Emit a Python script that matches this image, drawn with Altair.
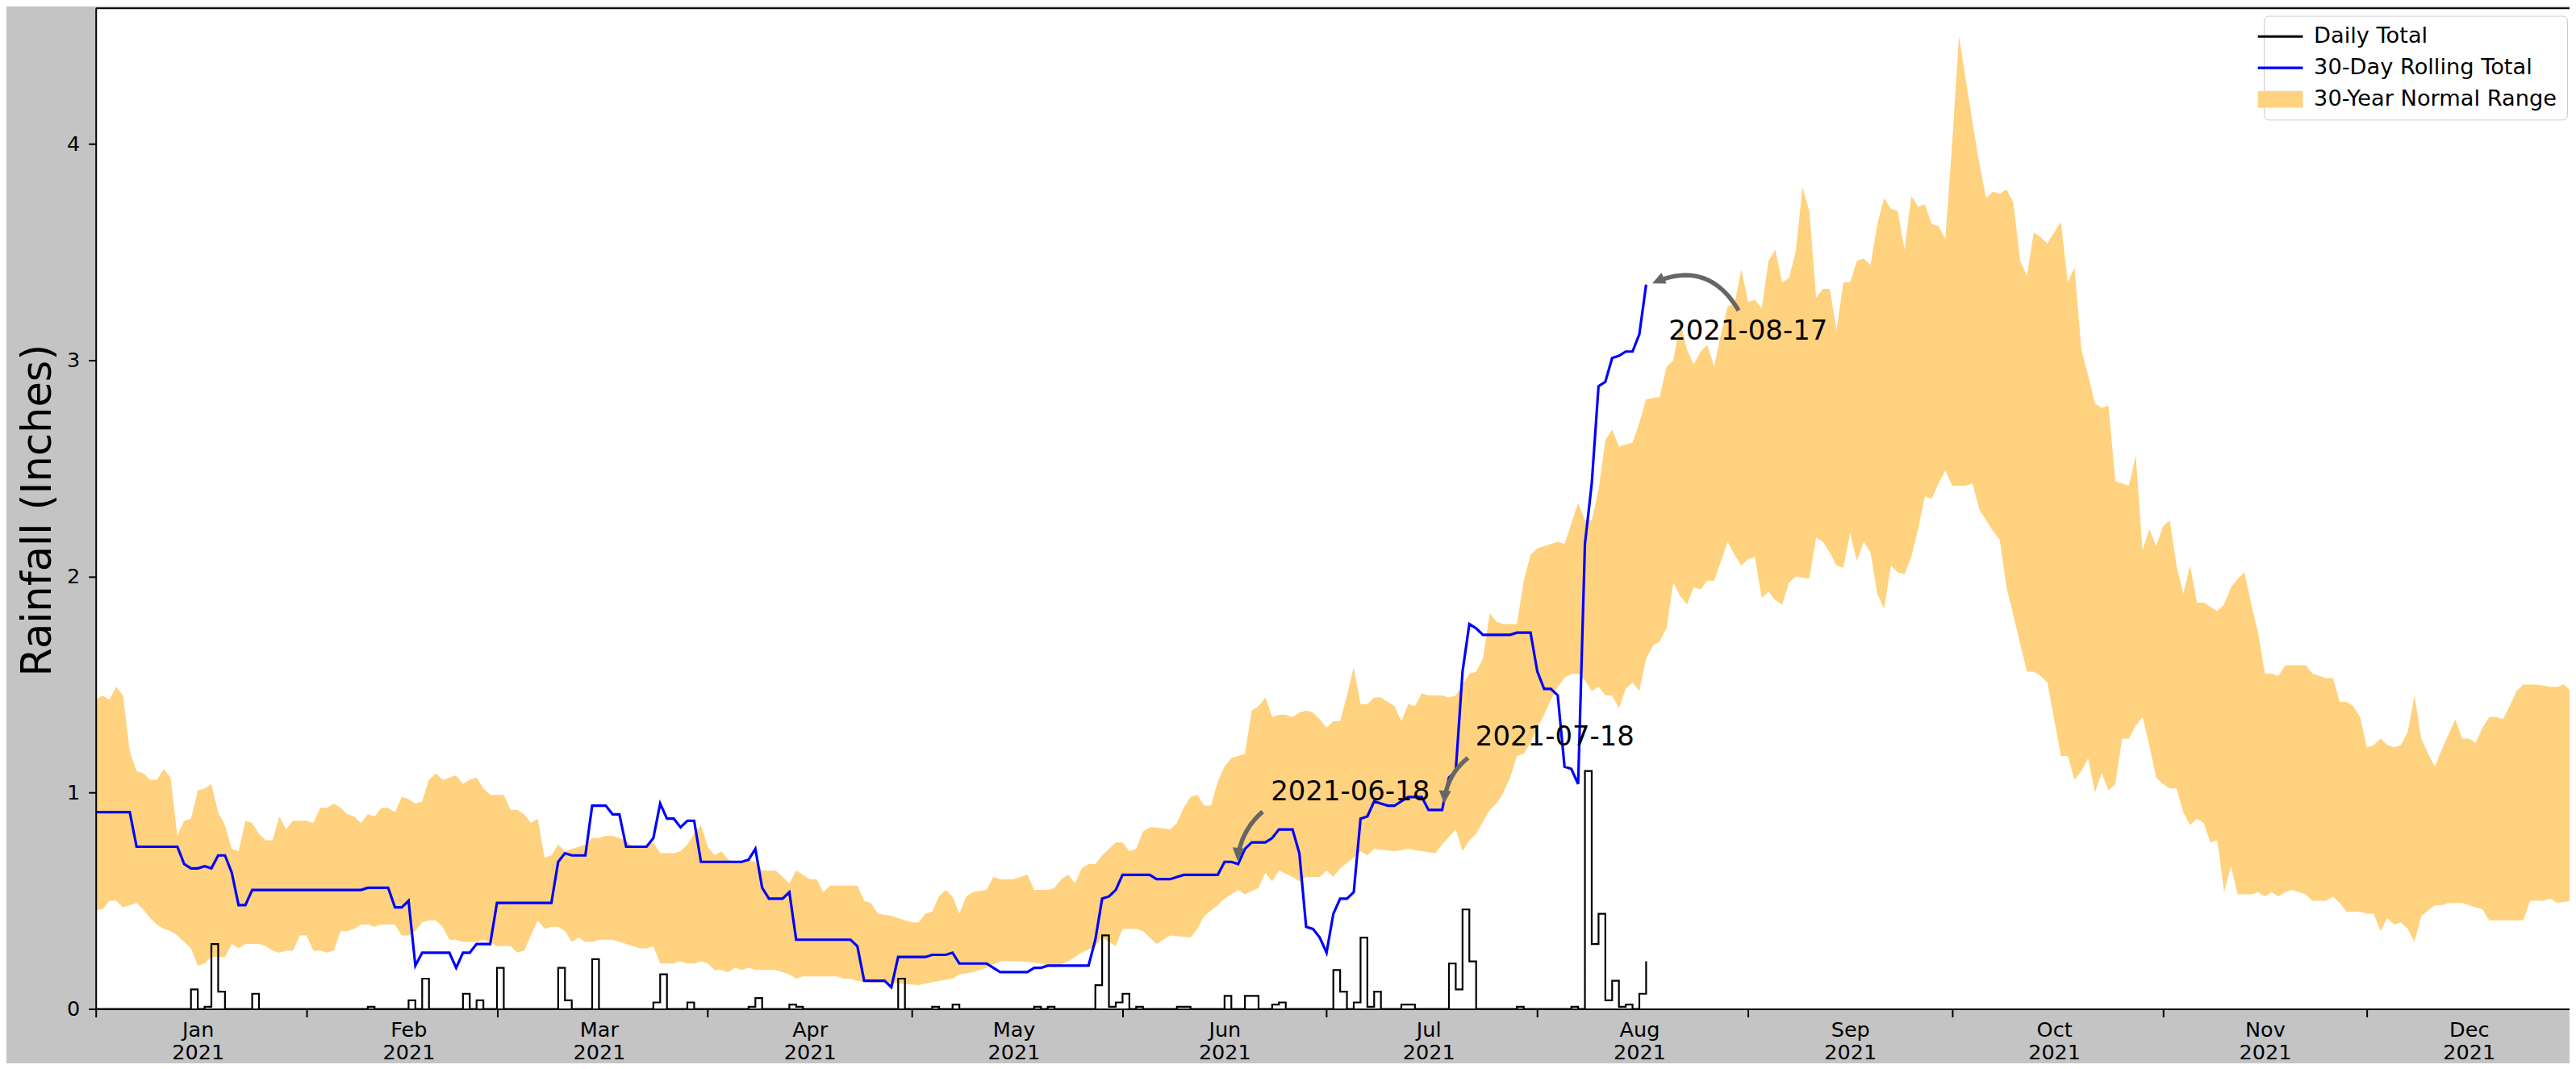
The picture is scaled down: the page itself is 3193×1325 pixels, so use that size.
import math
import pandas as pd
import altair as alt

# ------------------------------------------------------------------
# Data (day = days after 2021-01-01)
# ------------------------------------------------------------------
SERIES = ["Daily Total", "30-Day Rolling Total", "30-Year Normal Range"]

# 30-year normal range, upper edge (inches)
upper_days = [
    0, 1, 2, 3, 4, 5, 6, 7, 8, 9, 10, 11, 12, 13, 14, 15, 16, 17, 18, 19, 20, 21, 22, 23, 24, 25, 26, 27, 28, 29, 30,
    31, 32, 33, 34, 35, 36, 37, 38, 39, 40, 41, 42, 43, 44, 45, 46, 47, 48, 49, 50, 51, 52, 53, 54, 55, 56, 57, 58,
    59, 60, 61, 62, 63, 64, 65, 66, 67, 68, 69, 70, 71, 72, 73, 74, 75, 76, 77, 78, 79, 80, 81, 82, 83, 84, 85, 86, 87, 88, 89,
    90, 91, 92, 93, 94, 95, 96, 97, 98, 99, 100, 101, 102, 103, 104, 105, 106, 107, 108, 110, 112, 113, 114, 115, 117, 118,
    120, 121, 122, 123, 124, 125, 126, 127, 128, 129, 131, 132, 133, 135, 136, 137, 138, 140, 141, 142, 143, 144, 145, 146, 147, 148, 149, 150,
    151, 152, 153, 154, 155, 156, 158, 159, 160, 161, 162, 163, 164, 165, 166, 167, 168, 169, 170, 171, 172, 173, 174, 175, 176, 177, 178, 179, 180,
    181, 182, 183, 184, 185, 186, 187, 188, 189, 190, 191, 192, 193, 194, 195, 196, 198, 199, 200, 201, 202, 203, 204, 205, 206, 207, 209, 210, 211,
    212, 214, 215, 216, 218, 219, 220, 221, 222, 223, 224, 226, 227, 228, 230, 231, 232, 233, 234, 235, 236, 237, 238, 239, 240, 241, 242,
    243, 244, 245, 246, 247, 248, 249, 250, 251, 252, 253, 254, 255, 256, 257, 258, 259, 260, 261, 262, 263, 264, 265, 266, 267, 268, 269, 270, 271, 272,
    273, 274, 275, 276, 277, 278, 279, 280, 281, 282, 283, 284, 285, 286, 287, 288, 289, 290, 291, 292, 293, 294, 295, 296, 297, 298, 299, 300, 301, 302, 303,
    304, 305, 306, 307, 308, 309, 310, 311, 312, 313, 314, 315, 316, 317, 318, 319, 320, 321, 322, 324, 325, 326, 327, 328, 329, 330, 331, 332, 333,
    334, 335, 336, 337, 338, 339, 340, 341, 342, 343, 344, 345, 346, 347, 348, 349, 350, 351, 352, 353, 354, 355, 356, 357, 359, 361, 362, 363, 364,
]
upper_vals = [
    1.43, 1.45, 1.43, 1.49, 1.45, 1.19, 1.10, 1.09, 1.06, 1.06, 1.11, 1.07, 0.80, 0.87, 0.88, 1.01, 1.02, 1.04, 0.91, 0.85, 0.74, 0.73, 0.87, 0.86, 0.81, 0.78, 0.78, 0.89, 0.83, 0.87, 0.87,
    0.87, 0.86, 0.93, 0.93, 0.95, 0.93, 0.90, 0.89, 0.86, 0.90, 0.89, 0.93, 0.93, 0.91, 0.98, 0.97, 0.95, 0.96, 1.06, 1.09, 1.06, 1.07, 1.08, 1.04, 1.06, 1.07, 1.02, 0.99,
    0.99, 0.99, 0.92, 0.92, 0.90, 0.86, 0.88, 0.70, 0.71, 0.76, 0.73, 0.74, 0.75, 0.76, 0.79, 0.79, 0.80, 0.80, 0.79, 0.78, 0.75, 0.75, 0.76, 0.77, 0.72, 0.72, 0.72, 0.73, 0.76, 0.81, 0.85,
    0.75, 0.71, 0.73, 0.69, 0.68, 0.68, 0.69, 0.68, 0.64, 0.64, 0.64, 0.61, 0.58, 0.64, 0.62, 0.60, 0.60, 0.54, 0.57, 0.57, 0.57, 0.50, 0.49, 0.44, 0.43, 0.42,
    0.40, 0.40, 0.44, 0.45, 0.52, 0.55, 0.52, 0.44, 0.52, 0.54, 0.55, 0.61, 0.60, 0.60, 0.61, 0.62, 0.55, 0.55, 0.56, 0.60, 0.62, 0.58, 0.65, 0.67, 0.67, 0.71, 0.74, 0.77,
    0.77, 0.73, 0.74, 0.82, 0.84, 0.84, 0.83, 0.86, 0.93, 0.98, 0.99, 0.94, 0.94, 1.05, 1.12, 1.16, 1.17, 1.18, 1.38, 1.40, 1.44, 1.35, 1.36, 1.36, 1.35, 1.37, 1.38, 1.37, 1.34,
    1.30, 1.33, 1.33, 1.45, 1.58, 1.41, 1.41, 1.44, 1.44, 1.42, 1.40, 1.33, 1.41, 1.40, 1.46, 1.45, 1.45, 1.44, 1.45, 1.50, 1.55, 1.56, 1.62, 1.83, 1.79, 1.78, 1.78, 1.98, 2.10,
    2.13, 2.15, 2.16, 2.15, 2.34, 2.26, 2.26, 2.40, 2.63, 2.68, 2.60, 2.62, 2.71, 2.82, 2.83, 2.97, 3.00, 3.18, 3.05, 2.98, 3.04, 3.07, 2.97, 3.12, 3.25, 3.26, 3.42,
    3.27, 3.28, 3.24, 3.46, 3.51, 3.36, 3.38, 3.50, 3.80, 3.69, 3.29, 3.33, 3.33, 3.14, 3.36, 3.36, 3.46, 3.47, 3.44, 3.63, 3.75, 3.70, 3.69, 3.51, 3.76, 3.71, 3.72, 3.63, 3.62, 3.56,
    4.00, 4.50, 4.30, 4.10, 3.91, 3.75, 3.78, 3.77, 3.79, 3.73, 3.46, 3.39, 3.59, 3.57, 3.54, 3.59, 3.64, 3.36, 3.43, 3.05, 2.93, 2.80, 2.78, 2.79, 2.44, 2.43, 2.42, 2.56, 2.12, 2.22, 2.14,
    2.23, 2.26, 2.05, 1.92, 2.05, 1.88, 1.88, 1.86, 1.84, 1.87, 1.95, 1.99, 2.02, 1.87, 1.74, 1.55, 1.55, 1.54, 1.59, 1.59, 1.59, 1.55, 1.54, 1.53, 1.53, 1.42, 1.42, 1.40, 1.35,
    1.21, 1.22, 1.25, 1.22, 1.21, 1.22, 1.28, 1.45, 1.25, 1.18, 1.12, 1.20, 1.27, 1.34, 1.25, 1.25, 1.23, 1.30, 1.35, 1.35, 1.34, 1.40, 1.47, 1.50, 1.50, 1.49, 1.49, 1.50, 1.47,
]

# 30-year normal range, lower edge (inches)
lower_days = [
    0, 1, 2, 3, 4, 5, 6, 7, 8, 9, 10, 11, 12, 13, 14, 15, 16, 17, 18, 19, 20, 21, 22, 23, 24, 25, 26, 27, 28, 29, 30,
    31, 32, 33, 34, 35, 36, 37, 38, 39, 40, 41, 42, 43, 44, 45, 46, 47, 48, 49, 50, 51, 52, 53, 54, 55, 56, 57, 58,
    59, 60, 61, 62, 63, 64, 65, 66, 67, 68, 69, 70, 71, 72, 73, 74, 75, 76, 77, 78, 79, 80, 81, 82, 83, 84, 85, 86, 87, 88, 89,
    90, 91, 92, 93, 94, 95, 96, 97, 98, 99, 100, 101, 102, 103, 104, 105, 106, 107, 108, 109, 110, 111, 112, 114, 117,
    121, 124, 126, 127, 129, 131, 133, 136, 139, 141, 143, 145, 147, 148, 150,
    151, 153, 154, 156, 158, 161, 162, 163, 165, 166, 168, 169, 171, 172, 173, 174, 176, 177, 178, 180,
    181, 182, 183, 185, 186, 187, 188, 191, 193, 195, 197, 198, 200, 201, 202, 203, 205, 206, 207, 208, 209, 210, 211,
    212, 213, 214, 215, 216, 217, 218, 219, 220, 221, 222, 223, 224, 225, 226, 227, 228, 229, 230, 231, 232, 233, 234, 235, 236, 237, 238, 239, 240, 241, 242,
    243, 244, 245, 246, 247, 248, 249, 250, 252, 253, 254, 255, 256, 257, 258, 259, 260, 261, 262, 263, 264, 265, 266, 267, 268, 269, 270, 271, 272,
    273, 275, 276, 277, 278, 279, 280, 281, 282, 283, 284, 285, 286, 287, 288, 289, 290, 291, 292, 293, 294, 295, 296, 297, 298, 299, 300, 301, 302, 303,
    304, 305, 306, 307, 308, 309, 310, 311, 312, 313, 314, 315, 317, 318, 319, 320, 321, 322, 323, 325, 326, 327, 328, 329, 330, 331, 333,
    334, 335, 336, 337, 338, 339, 340, 341, 342, 344, 345, 346, 348, 350, 351, 352, 354, 356, 357, 358, 360, 361, 362, 364,
]
lower_vals = [
    0.46, 0.46, 0.50, 0.50, 0.47, 0.48, 0.49, 0.46, 0.42, 0.39, 0.37, 0.36, 0.34, 0.31, 0.28, 0.20, 0.21, 0.24, 0.24, 0.24, 0.30, 0.28, 0.30, 0.30, 0.30, 0.29, 0.27, 0.26, 0.27, 0.27, 0.34,
    0.34, 0.27, 0.27, 0.26, 0.27, 0.36, 0.36, 0.37, 0.39, 0.39, 0.38, 0.39, 0.39, 0.39, 0.34, 0.34, 0.36, 0.40, 0.41, 0.41, 0.38, 0.32, 0.32, 0.31, 0.31, 0.31, 0.32, 0.31,
    0.29, 0.29, 0.29, 0.26, 0.27, 0.34, 0.41, 0.37, 0.38, 0.38, 0.36, 0.31, 0.33, 0.31, 0.31, 0.32, 0.32, 0.32, 0.31, 0.30, 0.29, 0.28, 0.28, 0.29, 0.21, 0.21, 0.21, 0.22, 0.21, 0.21, 0.22,
    0.21, 0.18, 0.18, 0.17, 0.19, 0.18, 0.19, 0.18, 0.18, 0.18, 0.18, 0.17, 0.16, 0.14, 0.15, 0.15, 0.15, 0.15, 0.15, 0.15, 0.14, 0.14, 0.13, 0.12, 0.12,
    0.11, 0.13, 0.14, 0.16, 0.17, 0.19, 0.22, 0.22, 0.21, 0.19, 0.22, 0.26, 0.29, 0.33, 0.29,
    0.37, 0.37, 0.36, 0.30, 0.34, 0.33, 0.37, 0.43, 0.48, 0.51, 0.55, 0.53, 0.56, 0.63, 0.59, 0.64, 0.61, 0.59, 0.61, 0.61,
    0.64, 0.61, 0.65, 0.70, 0.73, 0.71, 0.74, 0.73, 0.74, 0.73, 0.72, 0.76, 0.83, 0.73, 0.78, 0.81, 0.92, 0.95, 1.00, 1.07, 1.17, 1.18, 1.23,
    1.30, 1.36, 1.43, 1.49, 1.53, 1.55, 1.55, 1.52, 1.47, 1.49, 1.45, 1.45, 1.39, 1.48, 1.51, 1.47, 1.62, 1.68, 1.70, 1.76, 1.97, 1.91, 1.87, 1.95, 1.94, 1.98, 1.98, 2.07, 2.16, 2.10, 2.05,
    2.08, 2.09, 1.90, 1.93, 1.89, 1.87, 1.97, 2.00, 1.99, 2.18, 2.16, 2.11, 2.05, 2.04, 2.20, 2.07, 2.16, 2.11, 1.92, 1.85, 2.05, 2.02, 2.01, 2.09, 2.22, 2.37, 2.36, 2.43, 2.49,
    2.42, 2.42, 2.43, 2.31, 2.26, 2.21, 2.17, 1.95, 1.82, 1.69, 1.56, 1.56, 1.54, 1.51, 1.34, 1.17, 1.17, 1.06, 1.10, 1.16, 1.00, 1.09, 1.01, 1.04, 1.25, 1.25, 1.31, 1.35, 1.22, 1.07,
    1.04, 1.02, 1.02, 0.91, 0.85, 0.88, 0.86, 0.77, 0.78, 0.54, 0.66, 0.53, 0.53, 0.54, 0.52, 0.54, 0.52, 0.54, 0.55, 0.53, 0.50, 0.50, 0.50, 0.52, 0.49, 0.45, 0.45,
    0.44, 0.44, 0.36, 0.42, 0.39, 0.40, 0.37, 0.31, 0.43, 0.48, 0.48, 0.49, 0.49, 0.47, 0.46, 0.41, 0.41, 0.41, 0.41, 0.50, 0.50, 0.51, 0.49, 0.50,
]

# Daily totals: every day from 2021-01-01 to 2021-08-17 (day 228); days not listed are 0
LAST_DAY = 228
rain_days = [14, 16, 17, 18, 23, 40, 46, 48, 54, 56, 59, 68, 69, 73, 82, 83, 87, 96, 97, 102, 103,
             118, 123, 126, 138, 140, 147, 148, 149, 150, 151, 153, 159, 160, 166, 169, 170, 173, 174,
             182, 183, 185, 186, 187, 188, 192, 193, 199, 200, 201, 202, 209, 217,
             219, 220, 221, 222, 223, 224, 225, 227, 228]
rain_vals = [0.09, 0.01, 0.30, 0.08, 0.07, 0.01, 0.04, 0.14, 0.07, 0.04, 0.19, 0.19, 0.04, 0.23, 0.03, 0.16, 0.03, 0.01, 0.05, 0.02, 0.01,
             0.14, 0.01, 0.02, 0.01, 0.01, 0.11, 0.34, 0.01, 0.03, 0.07, 0.01, 0.01, 0.01, 0.06, 0.06, 0.06, 0.02, 0.03,
             0.18, 0.08, 0.03, 0.33, 0.01, 0.08, 0.02, 0.02, 0.21, 0.09, 0.46, 0.22, 0.01, 0.01,
             1.10, 0.30, 0.44, 0.04, 0.13, 0.01, 0.02, 0.07, 0.22]

# 30-day rolling total (vertices of the line)
roll_days = [0, 5, 6, 12, 13, 14, 15, 16, 17, 18, 19, 20, 21, 22, 23, 39, 40, 43, 44, 45, 46, 47, 48, 52, 53, 54, 55, 56, 58,
             59, 67, 68, 69, 70, 72, 73, 75, 76, 77, 78, 81, 82, 83, 84, 85, 86, 87, 88, 89, 95, 96, 97, 98, 99, 101, 102, 103,
             111, 112, 113, 116, 117, 118, 122, 123, 125, 126, 127, 131, 132, 133, 137, 138, 139, 140, 146, 147, 148, 149, 150,
             151, 155, 156, 158, 159, 160, 165, 166, 167, 168, 169, 170, 172, 173, 174, 176, 177, 178, 179, 180,
             181, 182, 183, 184, 185, 186, 187, 188, 189, 190, 191, 192, 193, 195, 196, 198, 199, 200, 201, 202, 203, 204, 208, 209, 211,
             212, 213, 214, 215, 216, 217, 218, 219, 220, 221, 222, 223, 224, 225, 226, 227, 228]
roll_vals = [0.91, 0.91, 0.75, 0.75, 0.67, 0.65, 0.65, 0.66, 0.65, 0.71, 0.71, 0.63, 0.48, 0.48, 0.55, 0.55, 0.56, 0.56, 0.47, 0.47, 0.50, 0.20, 0.26, 0.26, 0.19, 0.26, 0.26, 0.30, 0.30,
             0.49, 0.49, 0.68, 0.72, 0.71, 0.71, 0.94, 0.94, 0.90, 0.90, 0.75, 0.75, 0.79, 0.95, 0.88, 0.88, 0.84, 0.87, 0.87, 0.68, 0.68, 0.69, 0.74, 0.56, 0.51, 0.51, 0.54, 0.32,
             0.32, 0.29, 0.13, 0.13, 0.10, 0.24, 0.24, 0.25, 0.25, 0.26, 0.21, 0.21, 0.19, 0.17, 0.17, 0.19, 0.19, 0.20, 0.20, 0.32, 0.51, 0.52, 0.55,
             0.62, 0.62, 0.60, 0.60, 0.61, 0.62, 0.62, 0.68, 0.68, 0.67, 0.74, 0.77, 0.77, 0.79, 0.83, 0.83, 0.72, 0.38, 0.37, 0.33,
             0.26, 0.44, 0.51, 0.51, 0.54, 0.88, 0.89, 0.96, 0.95, 0.94, 0.94, 0.96, 0.98, 0.98, 0.92, 0.92, 1.07, 1.10, 1.56, 1.78, 1.76, 1.73, 1.73, 1.74, 1.74,
             1.56, 1.48, 1.48, 1.45, 1.12, 1.11, 1.04, 2.15, 2.43, 2.88, 2.90, 3.01, 3.02, 3.04, 3.04, 3.12, 3.35]

# Annotations (text anchor and arrow ends, in data coordinates)
ann_labels = ["2021-06-18", "2021-07-18", "2021-08-17"]
ann_text_days = [172.8, 202.9, 231.3]
ann_text_vals = [0.965, 1.217, 3.096]
arrow_tail_days = [171.6, 201.8, 241.6]
arrow_tail_vals = [0.912, 1.161, 3.23]
arrow_tip_days = [167.9, 198.3, 228.9]
arrow_tip_vals = [0.685, 0.950, 3.355]

month_start_days = [0, 31, 59, 90, 120, 151, 181, 212, 243, 273, 304, 334]

assert len(upper_days) == len(upper_vals)
assert len(lower_days) == len(lower_vals)
assert len(rain_days) == len(rain_vals)
assert len(roll_days) == len(roll_vals)

# ------------------------------------------------------------------
# Layout / styling constants
# ------------------------------------------------------------------
DAY_MS = 86_400_000
JAN1_MS = 1_609_459_200_000  # 2021-01-01T00:00:00Z
PLOT_W, PLOT_H = 3074, 1244
X_SPAN_DAYS = 363.8
Y_MAX = 4.63
KX = PLOT_W / X_SPAN_DAYS
KY = PLOT_H / Y_MAX
FONT = "DejaVu Sans"
BAND = "#FFD27F"
ARROW = "#666666"
ARROW_RAD = [-0.2, -0.22, -0.45]
HEAD_LEN = 16


def to_ms(day):
    return JAN1_MS + day * DAY_MS


# ------------------------------------------------------------------
# Data frames
# ------------------------------------------------------------------
up_df = pd.DataFrame({"x": [to_ms(d) for d in upper_days], "v": upper_vals, "series": SERIES[2]})
lo_df = pd.DataFrame({"x": [to_ms(d) for d in lower_days], "v": lower_vals})
rain_map = dict(zip(rain_days, rain_vals))
daily_df = pd.DataFrame({"x": [to_ms(d) for d in range(LAST_DAY + 1)],
                         "v": [rain_map.get(d, 0.0) for d in range(LAST_DAY + 1)],
                         "series": SERIES[0]})
roll_df = pd.DataFrame({"x": [to_ms(d) for d in roll_days], "v": roll_vals, "series": SERIES[1]})
text_df = pd.DataFrame({"x": [to_ms(d) for d in ann_text_days], "v": ann_text_vals, "label": ann_labels})

arrow_rows, head_rows = [], []
for k in range(len(ann_labels)):
    sx, sy = arrow_tail_days[k] * KX, (Y_MAX - arrow_tail_vals[k]) * KY
    ex, ey = arrow_tip_days[k] * KX, (Y_MAX - arrow_tip_vals[k]) * KY
    dx, dy = ex - sx, ey - sy
    cx = (sx + ex) / 2 + ARROW_RAD[k] * dy
    cy = (sy + ey) / 2 - ARROW_RAD[k] * dx
    ux, uy = ex - cx, ey - cy
    n = math.hypot(ux, uy)
    ux, uy = ux / n, uy / n
    t_end = 1 - 0.6 * HEAD_LEN / (2 * n)
    for i in range(41):
        t = t_end * i / 40
        px = (1 - t) ** 2 * sx + 2 * t * (1 - t) * cx + t * t * ex
        py = (1 - t) ** 2 * sy + 2 * t * (1 - t) * cy + t * t * ey
        arrow_rows.append({"id": k, "o": i, "x": to_ms(px / KX), "v": Y_MAX - py / KY})
    head_rows.append({"x": to_ms(ex / KX), "v": Y_MAX - ey / KY,
                      "angle": math.degrees(math.atan2(ux, -uy)) % 360})
arrow_df = pd.DataFrame(arrow_rows)
head_df = pd.DataFrame(head_rows)

# ------------------------------------------------------------------
# Scales, axes, legend
# ------------------------------------------------------------------
xscale = alt.Scale(type="utc", domain=[to_ms(0), to_ms(X_SPAN_DAYS)], nice=False)
yscale = alt.Scale(domain=[0, Y_MAX], nice=False, zero=False)

x_axis = alt.Axis(
    orient="bottom", values=[to_ms(d) for d in month_start_days],
    labelExpr="[utcFormat(datum.value, '%b'), utcFormat(datum.value, '%Y')]",
    labelOffset=15 * KX, labelFont=FONT, labelFontSize=25.6, labelColor="black",
    labelPadding=4, labelLineHeight=28, labelFlush=False, labelOverlap=False, labelBound=False,
    tickSize=10, tickWidth=2, tickColor="black", domainColor="black", domainWidth=2,
    grid=False, title=None, zindex=1,
)
top_axis = alt.Axis(orient="top", labels=False, ticks=False, domain=True, domainColor="black",
                    domainWidth=2, grid=False, title=None, zindex=1)
y_axis = alt.Axis(
    orient="left", values=[0, 1, 2, 3, 4], format="d", labelFont=FONT, labelFontSize=25.6, labelColor="black",
    labelPadding=11, tickSize=9, tickWidth=2, tickColor="black", domainColor="black", domainWidth=2,
    grid=False, zindex=1,
    title="Rainfall (Inches)", titleFont=FONT, titleFontSize=51.2, titleFontWeight="normal",
    titleColor="black", titleAngle=270, titleAlign="center", titleBaseline="middle",
    titleX=-71, titleY=624,
)

IS_BAND = "datum.value === '30-Year Normal Range'"
legend = alt.Legend(
    title=None, orient="none", legendX=2694, legendY=10,
    labelFont=FONT, labelFontSize=27.3, labelColor="black", labelLimit=600,
    symbolSize=676, symbolStrokeWidth=0, symbolOffset=-5, labelOffset=28,
    symbolType={"expr": f"{IS_BAND} ? 'M-2.15,-0.8H2.15V0.8H-2.15Z' : 'M-2.15,-0.12H2.15V0.12H-2.15Z'"},
    symbolFillColor={"expr": f"datum.value === 'Daily Total' ? 'black' : (datum.value === '30-Day Rolling Total' ? 'blue' : '{BAND}')"},
    symbolOpacity=1,
    rowPadding=11, padding=12, fillColor="white", strokeColor="#cccccc", cornerRadius=6,
)
color = alt.Color("series:N", scale=alt.Scale(domain=SERIES, range=["black", "blue", BAND]), legend=legend)

X = lambda axis=None: alt.X("x:T", scale=xscale, axis=axis)
Y = lambda axis=None: alt.Y("v:Q", scale=yscale, axis=axis)

band_up = alt.Chart(up_df).mark_area(opacity=1, clip=True).encode(x=X(x_axis), y=Y(y_axis), color=color)
band_lo = alt.Chart(lo_df).mark_area(color="white", opacity=1, clip=True).encode(x=X(), y=Y())
daily = alt.Chart(daily_df).mark_line(interpolate="step-after", strokeWidth=2.2).encode(x=X(), y=Y(), color=color)
rolling = alt.Chart(roll_df).mark_line(strokeWidth=3.2).encode(x=X(), y=Y(), color=color)
arrows = alt.Chart(arrow_df).mark_line(color=ARROW, strokeWidth=5.5, strokeCap="butt").encode(
    x=X(), y=Y(), detail="id:N", order=alt.Order("o:Q"))
heads = alt.Chart(head_df).mark_point(
    shape="M0,0L-0.47,1L0.47,1Z", size=(2 * HEAD_LEN) ** 2, filled=True, color=ARROW, opacity=1, strokeWidth=0
).encode(x=X(), y=Y(), angle=alt.Angle("angle:Q", scale=None))
texts = alt.Chart(text_df).mark_text(align="left", baseline="alphabetic", font=FONT, fontSize=34, color="black").encode(
    x=X(top_axis), y=Y(), text="label:N")

chart = (
    alt.layer(band_up, band_lo, daily, rolling, arrows, heads, texts)
    .resolve_axis(x="independent", y="independent")
    .properties(
        width=PLOT_W, height=PLOT_H, background="#c4c4c4",
        padding={"left": 111, "top": 0, "right": 0, "bottom": 66},
        autosize=alt.AutoSizeParams(type="none"),
    )
    .configure_view(fill="white", stroke="transparent")
)

chart.save("out.html", embed_options={"renderer": "svg", "actions": False})
